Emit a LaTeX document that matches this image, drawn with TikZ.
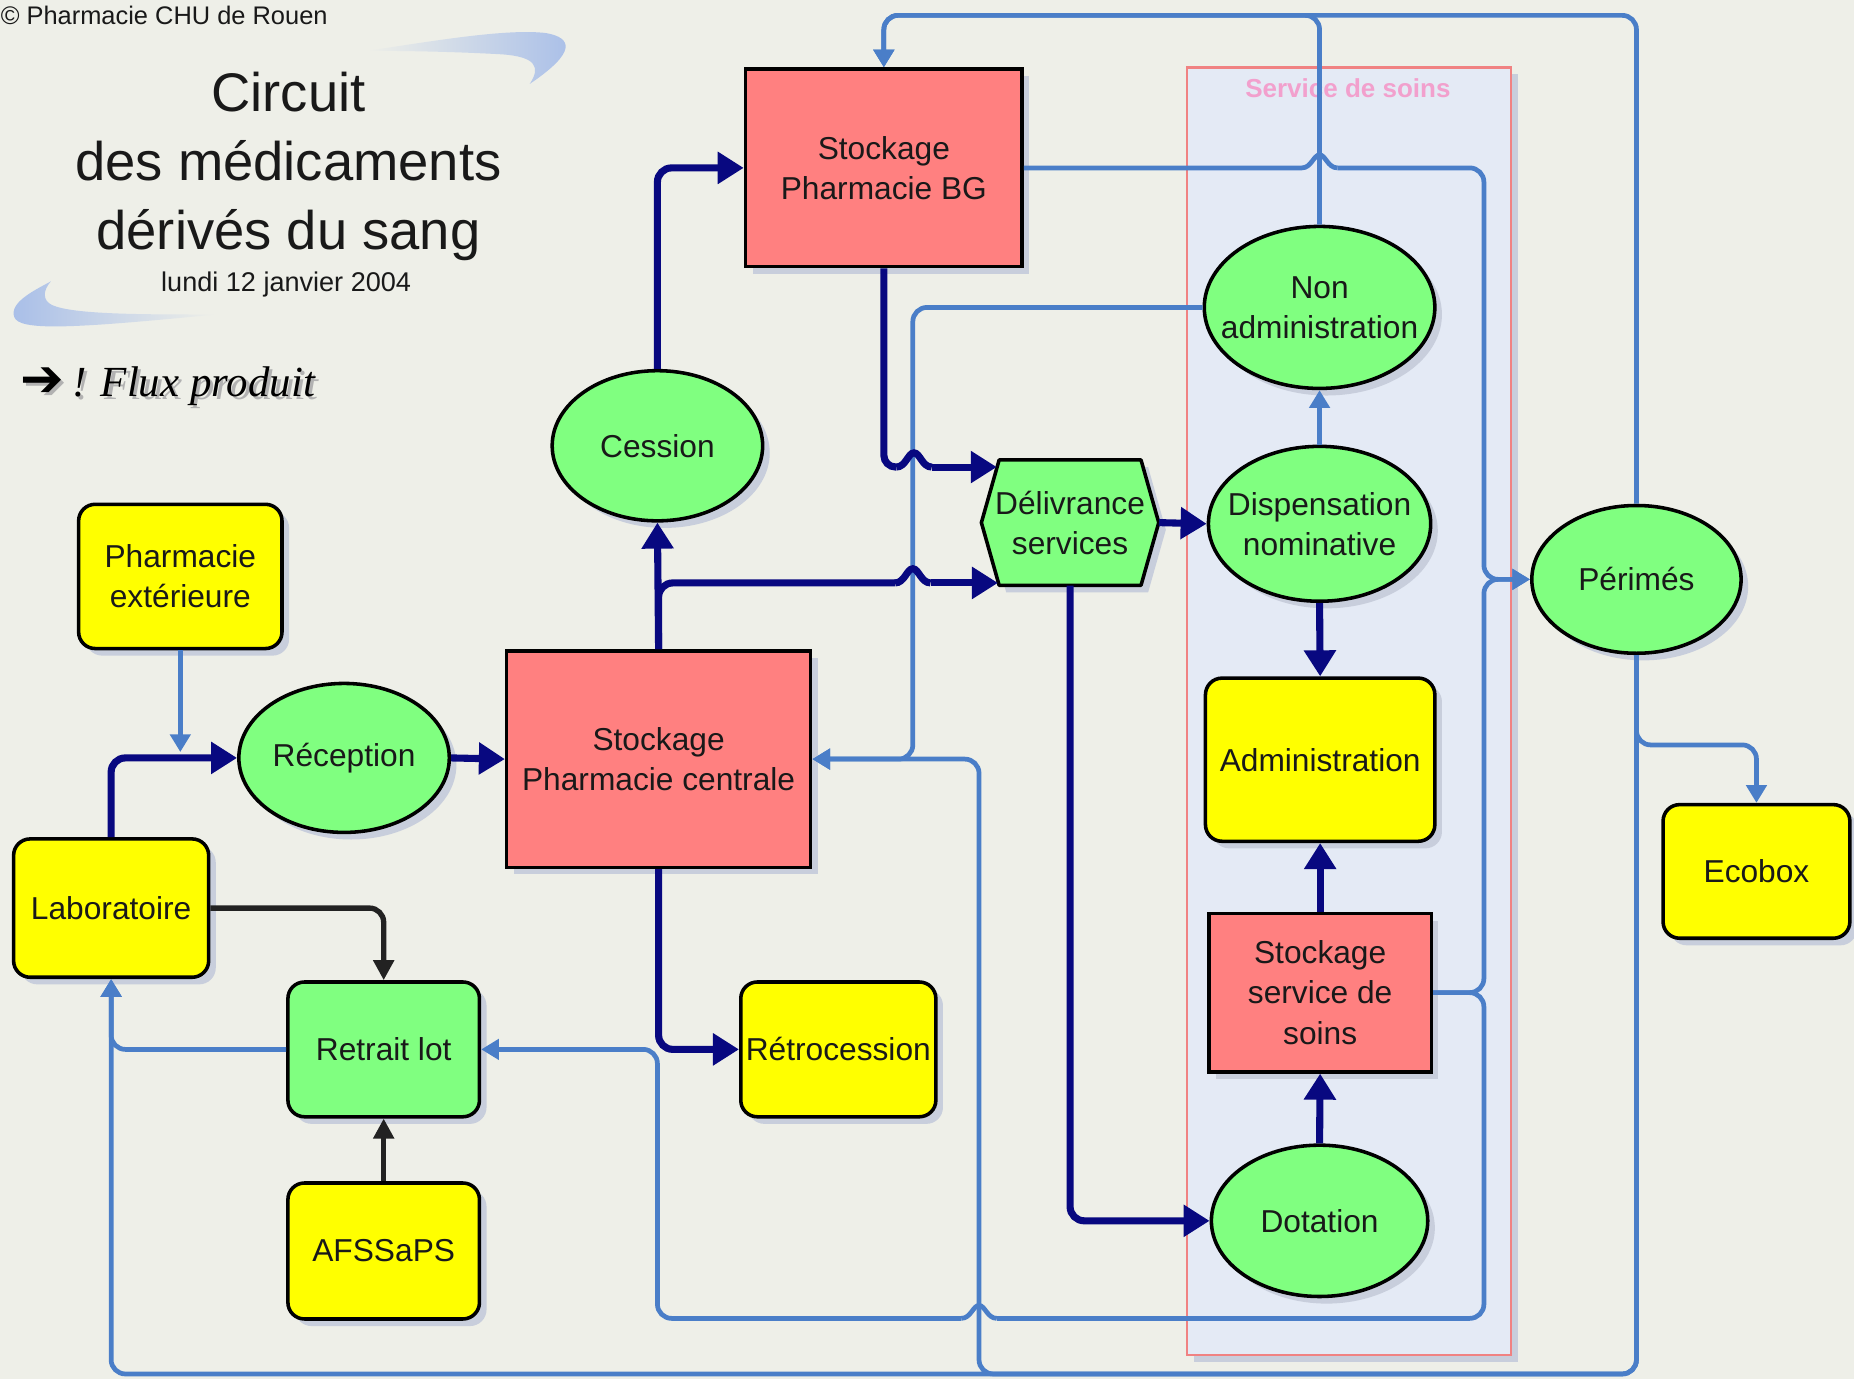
\documentclass[tikz,border=0pt]{standalone}
\usepackage{fontspec}
\setmainfont{Liberation Sans}
\newfontfamily\serifit{Liberation Serif}
\newfontfamily\dejavu{DejaVu Sans}
\usetikzlibrary{shapes.geometric,arrows.meta,shadows,calc}
\definecolor{bg}{RGB}{238,239,232}
\definecolor{yel}{RGB}{255,255,0}
\definecolor{grn}{RGB}{128,255,128}
\definecolor{redc}{RGB}{255,128,128}
\definecolor{navy}{RGB}{8,8,128}
\definecolor{bluec}{RGB}{74,126,200}
\definecolor{blk}{RGB}{34,34,34}
\definecolor{shad}{RGB}{200,206,220}
\definecolor{txt}{RGB}{25,25,25}
\definecolor{contfill}{RGB}{228,234,245}
\definecolor{contdraw}{RGB}{240,130,130}
\definecolor{pinklab}{RGB}{242,160,205}
\definecolor{swoosh}{RGB}{168,190,232}
\newcommand\mynodefont{\fontsize{26.8}{34}\selectfont}
\tikzset{
  base/.style={draw=black, line width=3pt, align=center, text=txt, font=\mynodefont, inner sep=2pt,
    drop shadow={shadow xshift=6pt, shadow yshift=-6pt, fill=shad, opacity=1}},
  yelbox/.style={base, fill=yel, rounded corners=14pt},
  grnbox/.style={base, fill=grn, rounded corners=14pt},
  redbox/.style={base, fill=redc},
  ell/.style={base, ellipse, fill=grn, inner sep=-25pt},
  nav/.style={draw=navy, line width=6pt, rounded corners=12pt, -{Triangle[length=22pt,width=26pt]}},
  navline/.style={draw=navy, line width=6pt, rounded corners=12pt},
  blu/.style={draw=bluec, line width=4pt, rounded corners=12pt, -{Triangle[length=15pt,width=17pt]}},
  bluline/.style={draw=bluec, line width=4pt, rounded corners=12pt},
  blkarrow/.style={draw=blk, line width=4.5pt, rounded corners=12pt, -{Triangle[length=17pt,width=17pt]}},
}
\begin{document}
\begin{tikzpicture}[x=1pt,y=-1pt]
\fill[bg] (0,0) rectangle (1568,1166);
\useasboundingbox (0,0) rectangle (1568,1166);

% decorative swooshes
\shade[left color=bg, right color=swoosh] (311,43) .. controls (370,34) and (430,24) .. (462,28)
  .. controls (484,32) and (488,44) .. (448,71) .. controls (458,56) and (452,48) .. (425,46)
  .. controls (390,44) and (350,43) .. (311,43) -- cycle;
\shade[left color=swoosh, right color=bg] (43,238) .. controls (28,246) and (8,256) .. (12,268)
  .. controls (16,280) and (60,278) .. (182,266) .. controls (120,266) and (62,266) .. (44,258)
  .. controls (36,254) and (36,246) .. (43,238) -- cycle;

% texts
\node[anchor=west, text=txt, font=\fontsize{21.5}{26}\selectfont, inner sep=0pt] (copy) at (0.5,13) {© Pharmacie CHU de Rouen};
\node[align=center, text=txt, font=\fontsize{46}{58.5}\selectfont] (title) at (244,141) {Circuit\\des médicaments\\dérivés du sang};
\node[text=txt, font=\fontsize{22.9}{27}\selectfont] (date) at (242,241) {lundi 12 janvier 2004};
\node[anchor=west, text=black!30, inner sep=0pt] (fluxsh) at (20,329) {{\dejavu\fontsize{44}{44}\selectfont ➔}\hspace{7pt}{\serifit\itshape\fontsize{36.3}{40}\selectfont ! Flux produit}};
\node[anchor=west, text=black, inner sep=0pt] (flux) at (17,327) {{\dejavu\fontsize{44}{44}\selectfont ➔}\hspace{7pt}{\serifit\itshape\fontsize{36.3}{40}\selectfont ! Flux produit}};

% container
\node[draw=contdraw, fill=contfill, line width=2pt, minimum width=274, minimum height=1089,
  drop shadow={shadow xshift=6pt, shadow yshift=-6pt, fill=shad, opacity=1}] (soins) at (1141,601.5) {};
\node[text=pinklab, font=\fontsize{22}{26}\selectfont\bfseries] (soinslab) at (1140,75) {Service de soins};

% nodes
\node[redbox, minimum width=234, minimum height=167] (stockbg) at (747.5,142) {Stockage\\Pharmacie BG};
\node[ell, minimum width=178, minimum height=127] (cession) at (556,377) {Cession};
\node[yelbox, minimum width=172, minimum height=122] (pharmext) at (152.5,487.5) {Pharmacie\\extérieure};
\node[ell, minimum width=178, minimum height=126] (reception) at (291,641) {Réception};
\node[redbox, minimum width=257, minimum height=183] (centrale) at (557,642) {Stockage\\Pharmacie centrale};
\node[yelbox, minimum width=165, minimum height=117] (lab) at (94,768) {Laboratoire};
\node[grnbox, minimum width=162, minimum height=114] (retrait) at (324.5,887.5) {Retrait lot};
\node[yelbox, minimum width=162, minimum height=115] (afssaps) at (324.5,1058) {AFSSaPS};
\node[yelbox, minimum width=165, minimum height=114] (retro) at (709,887.5) {Rétrocession};
% hexagon Délivrance
\fill[shad, shift={(6,6)}] (830,442) -- (845,389) -- (965,389) -- (980,442) -- (965,495) -- (845,495) -- cycle;
\draw[line width=3pt, fill=grn, line join=round] (830,442) -- (845,389) -- (965,389) -- (980,442) -- (965,495) -- (845,495) -- cycle;
\node[align=center, text=txt, font=\mynodefont, minimum width=150, minimum height=106, inner sep=0pt] (deliv) at (905,442) {Délivrance\\services};
\node[ell, minimum width=195, minimum height=137] (nonadmin) at (1116,260) {Non\\administration};
\node[ell, minimum width=188, minimum height=131] (disp) at (1116,443) {Dispensation\\nominative};
\node[yelbox, minimum width=194, minimum height=138] (admin) at (1116.5,642.5) {Administration};
\node[redbox, minimum width=188, minimum height=134] (stockss) at (1116.5,839.5) {Stockage\\service de\\soins};
\node[ell, minimum width=183, minimum height=128] (dotation) at (1116,1032.5) {Dotation};
\node[ell, minimum width=177, minimum height=125] (perimes) at (1384,490) {Périmés};
\node[yelbox, minimum width=158, minimum height=113] (ecobox) at (1485.5,737) {Ecobox};

% coordinates
\coordinate (topy) at (0,13);
\coordinate (pe) at (152.5,636);
\coordinate (c772) at (772,642);
\coordinate (c828b) at (828,1162);
\coordinate (c828t) at (828,642);
\coordinate (cbl) at (94,1162);
\coordinate (eco) at (1485.5,630);
\coordinate (c1255m) at (1255,490);
\coordinate (h1l) at (1101,142);
\coordinate (h1r) at (1131,142);
\coordinate (c1255b) at (1255,1115);
\coordinate (h2r) at (843,1115);
\coordinate (h2l) at (813,1115);
\coordinate (c556b) at (556,1115);
\coordinate (n1) at (757,493);
\coordinate (n2) at (787,493);
\coordinate (n3) at (758,395);
\coordinate (n4) at (788,395);
\coordinate (dA) at (843,395);
\coordinate (dB) at (844,493);

% blue connectors
\draw[blu] (pharmext.south) -- (pe);
\draw[blu] (retrait.west) -| (lab.south);
\draw[blu] (disp.north) -- (nonadmin.south);
\draw[blu] (nonadmin.north) |- (stockbg.north |- topy) -- (stockbg.north);
\draw[blu] (perimes.north) |- (stockbg.north |- topy) -- (stockbg.north);
\draw[blu] (nonadmin.west) -| (c772) -- (centrale.east);
\draw[blu] (perimes.south) |- (c828b) -- (c828t) -- (centrale.east);
\draw[blu] (perimes.south) |- (cbl) -- (lab.south);
\draw[blu] (perimes.south) |- (eco) -- (ecobox.north);
\draw[blu] (stockss.east) -| (c1255m) -- (perimes.west);
\draw[bluline, sharp corners] (stockbg.east) -- (h1l) .. controls (1109,142) and (1111,131) .. (1116,131)
  .. controls (1121,131) and (1123,142) .. (h1r);
\draw[blu] (h1r) -| (c1255m) -- (perimes.west);
\draw[bluline] (stockss.east) -| (c1255b) -- (h2r);
\draw[bluline, sharp corners] (h2r) .. controls (835,1115) and (833,1104) .. (828,1104)
  .. controls (823,1104) and (821,1115) .. (h2l);
\draw[blu] (h2l) -- (c556b) |- (retrait.east);

% navy connectors
\draw[nav] (lab.north) |- (reception.west);
\draw[nav] (reception.east) -- (centrale.west);
\draw[nav] (centrale.north) -- (cession.south);
\draw[nav] (cession.north) |- (stockbg.west);
\draw[navline] (centrale.north) |- (n1);
\draw[navline, sharp corners] (n1) .. controls (765,493) and (767,481) .. (772,481)
  .. controls (777,481) and (779,493) .. (n2);
\draw[nav] (n2) -- (dB);
\draw[navline, rounded corners=10pt] (stockbg.south) |- (n3);
\draw[navline, sharp corners] (n3) .. controls (766,395) and (768,383) .. (773,383)
  .. controls (778,383) and (780,395) .. (n4);
\draw[nav] (n4) -- (dA);
\draw[nav] (deliv.east) -- (disp.west);
\draw[nav] (deliv.south) |- (dotation.west);
\draw[nav] (centrale.south) |- (retro.west);
\draw[nav] (disp.south) -- (admin.north);
\draw[nav] (stockss.north) -- (admin.south);
\draw[nav] (dotation.north) -- (stockss.south);

% black connectors
\draw[blkarrow] (lab.east) -| (retrait.north);
\draw[blkarrow] (afssaps.north) -- (retrait.south);
\end{tikzpicture}
\end{document}
